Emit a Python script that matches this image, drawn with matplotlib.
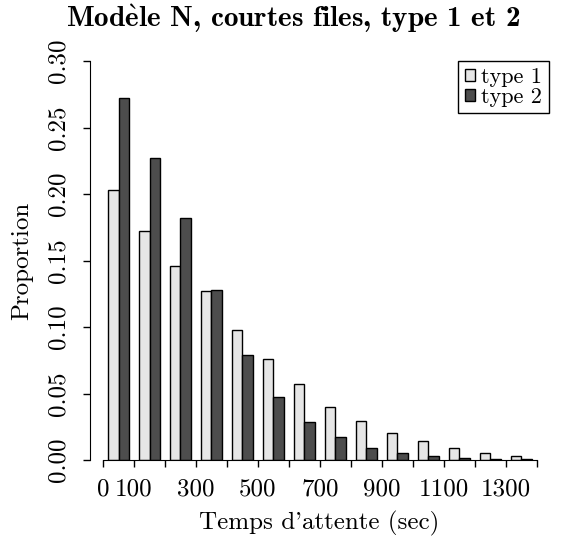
import matplotlib
matplotlib.use("Agg")
import matplotlib.pyplot as plt

# waiting-time histogram, 100 s bins
bin_starts = [0, 100, 200, 300, 400, 500, 600, 700, 800, 900, 1000, 1100, 1200, 1300]
type1 = [0.203, 0.172, 0.146, 0.127, 0.0975, 0.0757, 0.0569, 0.0401, 0.0296, 0.0200,
         0.0143, 0.0087, 0.0053, 0.0030]
type2 = [0.272, 0.227, 0.182, 0.1276, 0.0787, 0.0476, 0.0283, 0.0170, 0.0090, 0.0053,
         0.0030, 0.0012, 0.0008, 0.0005]
xticks = [0, 100, 200, 300, 400, 500, 600, 700, 800, 900, 1000, 1100, 1200, 1300, 1400]
xlabels = ["0", "100", "", "300", "", "500", "", "700", "", "900", "", "1100", "", "1300", ""]
yticks = [0.00, 0.05, 0.10, 0.15, 0.20, 0.25, 0.30]

plt.rcParams["font.family"] = ["cmr10", "DejaVu Serif"]
plt.rcParams["mathtext.fontset"] = "cm"
plt.rcParams["axes.unicode_minus"] = False
plt.rcParams["axes.formatter.use_mathtext"] = True

fig = plt.figure(figsize=(5.69, 5.41), dpi=100)
ax = fig.add_axes([90 / 569, 81 / 541, 459 / 569, 399 / 541])

w = 100 / 3
left1 = [b + w / 2 for b in bin_starts]
left2 = [b + 1.5 * w for b in bin_starts]
ax.bar(left1, type1, width=w, align="edge", color="#e6e6e6", edgecolor="black",
       linewidth=1, label="type 1")
ax.bar(left2, type2, width=w, align="edge", color="#4d4d4d", edgecolor="black",
       linewidth=1, label="type 2")

ax.set_xlim(-42, 1439)
ax.set_ylim(0, 0.30)
for s in ["top", "right"]:
    ax.spines[s].set_visible(False)
ax.spines["left"].set_bounds(0, 0.30)
ax.spines["bottom"].set_bounds(0, 1400)

ax.set_xticks(xticks)
ax.set_xticklabels(xlabels, fontsize=18)
ax.set_yticks(yticks)
ax.set_yticklabels(["%.2f" % v for v in yticks], fontsize=18, rotation=90, va="center")
ax.tick_params(direction="out", length=5, width=1)
ax.tick_params(axis="y", pad=10)
ax.tick_params(axis="x", pad=8)

ax.set_xlabel("Temps d'attente (sec)", fontsize=18)
ax.set_ylabel("Proportion", fontsize=18)
ax.xaxis.set_label_coords(0.5, (460 - 523) / 399)
ax.xaxis.label.set_va("center")
ax.yaxis.set_label_coords((22.5 - 90) / 459, 0.5)
ax.yaxis.label.set_va("center")

# grave accent via mathtext, rest of the title in Computer Modern bold
title = r"Mod$\mathbf{\grave{e}}$le N, courtes files, type 1 et 2"
fig.text(293.5 / 569, 1 - 19 / 541, title, ha="center", va="center", fontsize=21,
         family="cmb10")

leg = ax.legend(loc="upper right", bbox_to_anchor=(1.0, 1.0), borderaxespad=0,
                fancybox=False, edgecolor="black", framealpha=1, fontsize=16,
                handlelength=0.45, handleheight=0.45, handletextpad=0.3,
                labelspacing=0.0, borderpad=0.3)
leg.get_frame().set_linewidth(1)

fig.savefig("out.png", dpi=100)
